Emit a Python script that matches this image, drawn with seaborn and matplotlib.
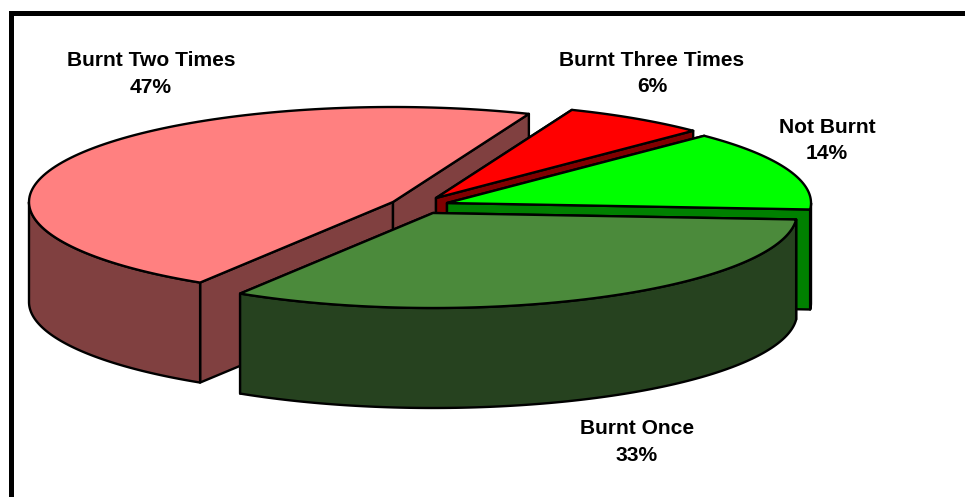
import numpy as np
import matplotlib
matplotlib.use("Agg")
import matplotlib.pyplot as plt
from matplotlib.patches import Polygon, Rectangle
import seaborn as sns

# Data, in clockwise drawing order from the start angle
categories = ["Burnt Two Times", "Burnt Three Times", "Not Burnt", "Burnt Once"]
shares = [47.2, 6.4, 13.6, 32.8]

sns.set_theme(style="white")
plt.rcParams["font.family"] = ["Liberation Sans", "DejaVu Sans"]

top_colors = sns.color_palette(["#FF8080", "#FF0000", "#00FF00", "#4B8A3B"])
side_colors = sns.color_palette(["#804040", "#800000", "#008000", "#26421F"])

# Layout of the tilted pie, in pixels
RX, RY, DEPTH = 364, 95, 100
START = 238.0
tips = [(393, 202), (436, 198), (447, 203), (433, 213)]
label_pos = [(151, 74), (652, 73.5), (827, 140.5), (637, 442)]
LW = 1.7

fig = plt.figure(figsize=(9.65, 4.97), dpi=100, facecolor="white")
ax = fig.add_axes([0, 0, 1, 1])
ax.set_xlim(0, 965)
ax.set_ylim(497, 0)
ax.axis("off")

# Frame: only its top and left sides fall inside the picture
ax.add_patch(Rectangle((9, 11), 970, 500, fc="black", ec="none", zorder=0))
ax.add_patch(Rectangle((14, 16), 970, 500, fc="white", ec="none", zorder=1))


def rim(c, a0, a1, n=120):
    t = np.radians(np.linspace(a0, a1, n))
    return np.column_stack([c[0] + RX * np.cos(t), c[1] - RY * np.sin(t)])


def poly(pts, color, z):
    ax.add_patch(Polygon(pts, closed=True, fc=color, ec="black", lw=LW,
                         joinstyle="round", zorder=z))


angle = START
for i, (tip, share) in enumerate(zip(tips, shares)):
    sweep = share / sum(shares) * 360
    a0, a1 = angle, angle - sweep
    angle = a1
    z = 2 + i
    c = np.array(tip, dtype=float)
    down = np.array([0, DEPTH])
    arc = rim(c, a0, a1)
    # straight cut faces
    for p in (arc[0], arc[-1]):
        poly([c, p, p + down, c + down], side_colors[i], z)
    # outer wall: only the part of the rim that faces the viewer
    lo, hi = min(a0, a1), max(a0, a1)
    for w0, w1 in ((-180, 0), (180, 360)):
        s0, s1 = max(lo, w0), min(hi, w1)
        if s1 > s0:
            wall = rim(c, s0, s1)
            poly(np.vstack([wall, (wall + down)[::-1]]), side_colors[i], z)
    # top face
    poly(np.vstack([c, arc]), top_colors[i], z)

for (x, y), name, share in zip(label_pos, categories, shares):
    ax.text(x, y, f"{name}\n{share:.0f}%", ha="center", va="center", fontsize=15.1,
            fontweight="bold", color="black", linespacing=1.5, zorder=10)

fig.savefig("out.png", dpi=100, facecolor="white")
